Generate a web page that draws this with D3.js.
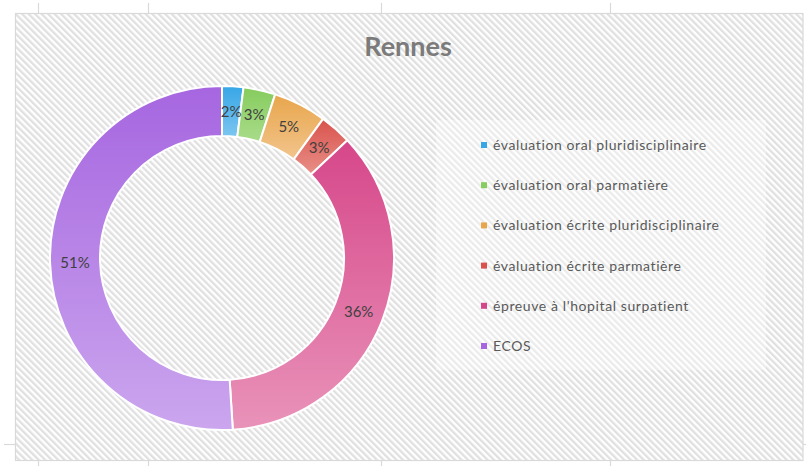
<!DOCTYPE html>
<html>
<head>
<meta charset="utf-8">
<script src="https://cdn.jsdelivr.net/npm/d3@7"></script>
<style>
  html, body { margin: 0; padding: 0; background: #ffffff; }
  svg { display: block; }
</style>
</head>
<body>
<svg id="chart" width="806" height="466"></svg>
<script>
const title = "Rennes";
const categories = [
  "évaluation oral pluridisciplinaire",
  "évaluation oral parmatière",
  "évaluation écrite pluridisciplinaire",
  "évaluation écrite parmatière",
  "épreuve à l'hopital surpatient",
  "ECOS"
];
const values = [2, 3, 5, 3, 36, 51];
const labels = ["2%", "3%", "5%", "3%", "36%", "51%"];
const colorsTop = ["#37a6e6", "#86cc5e", "#e8a64c", "#d9524c", "#d6478a", "#a666e0"];
const colorsBottom = ["#7cc6f0", "#a9dc8a", "#f2c48c", "#e89088", "#e993b9", "#cba6ee"];

const svg = d3.select("#chart");
const defs = svg.append("defs");

// hatch pattern
const pat = defs.append("pattern")
  .attr("id", "hatch")
  .attr("patternUnits", "userSpaceOnUse")
  .attr("width", 4.6).attr("height", 10)
  .attr("patternTransform", "rotate(-45)");
pat.append("rect").attr("width", 4.6).attr("height", 10).attr("fill", "#ffffff");
pat.append("rect").attr("width", 2.3).attr("height", 10).attr("fill", "#e0e0e0");

// chart area frame
const area = {x: 15.5, y: 13.5, w: 787.5, h: 447};
svg.append("rect")
  .attr("x", area.x).attr("y", area.y).attr("width", area.w).attr("height", area.h)
  .attr("fill", "url(#hatch)").attr("stroke", "#d9d9d9").attr("stroke-width", 1.2);

// outer ticks
const tickXs = [38, 148, 381, 610];
tickXs.forEach(x => {
  svg.append("line").attr("x1", x + 0.5).attr("x2", x + 0.5).attr("y1", 3).attr("y2", 13)
    .attr("stroke", "#d9d9d9").attr("stroke-width", 1.2);
  svg.append("line").attr("x1", x + 0.5).attr("x2", x + 0.5).attr("y1", 461).attr("y2", 466)
    .attr("stroke", "#d9d9d9").attr("stroke-width", 1.2);
});
svg.append("line").attr("x1", 4).attr("x2", 15).attr("y1", 444.5).attr("y2", 444.5)
  .attr("stroke", "#d9d9d9").attr("stroke-width", 1.2);
svg.append("line").attr("x1", 803).attr("x2", 806).attr("y1", 444.5).attr("y2", 444.5)
  .attr("stroke", "#d9d9d9").attr("stroke-width", 1.2);

// title
svg.append("text")
  .attr("x", 408).attr("y", 56)
  .attr("text-anchor", "middle")
  .attr("font-family", "Lato, 'Open Sans', sans-serif")
  .attr("font-weight", "bold")
  .attr("font-size", 27)
  .attr("fill", "#7b7b7b")
  .text(title);

// gradients
values.forEach((v, i) => {
  const g = defs.append("linearGradient")
    .attr("id", "grad" + i)
    .attr("x1", 0).attr("y1", 0).attr("x2", 0).attr("y2", 1);
  g.append("stop").attr("offset", "0%").attr("stop-color", colorsTop[i]);
  g.append("stop").attr("offset", "100%").attr("stop-color", colorsBottom[i]);
});

// donut
const cx = 222, cy = 258, rOuter = 172, rInner = 122;
const pie = d3.pie().sort(null).value(d => d);
const arcs = pie(values);
const arc = d3.arc().innerRadius(rInner).outerRadius(rOuter);
const labelArc = d3.arc().innerRadius(147).outerRadius(147);

const g = svg.append("g").attr("transform", `translate(${cx},${cy})`);
g.selectAll("path.slice")
  .data(arcs)
  .enter().append("path")
  .attr("class", "slice")
  .attr("d", arc)
  .attr("fill", (d, i) => `url(#grad${i})`)
  .attr("stroke", "#ffffff")
  .attr("stroke-width", 2);

g.selectAll("text.lbl")
  .data(arcs)
  .enter().append("text")
  .attr("class", "lbl")
  .attr("transform", d => `translate(${labelArc.centroid(d)})`)
  .attr("text-anchor", "middle")
  .attr("dy", "0.35em")
  .attr("font-family", "Lato, 'Open Sans', sans-serif")
  .attr("font-size", 15)
  .attr("fill", "#404040")
  .text((d, i) => labels[i]);

// legend
svg.append("rect")
  .attr("x", 436).attr("y", 120).attr("width", 330).attr("height", 250)
  .attr("fill", "#ffffff").attr("fill-opacity", 0.35);

const legY = d3.scalePoint().domain(categories).range([145, 346]);
const leg = svg.append("g");
categories.forEach((c, i) => {
  const y = legY(c);
  leg.append("rect").attr("x", 481).attr("y", y - 3).attr("width", 6).attr("height", 6)
    .attr("fill", colorsTop[i]);
  leg.append("text").attr("x", 493).attr("y", y).attr("dy", "0.35em")
    .attr("font-family", "Lato, 'Open Sans', sans-serif")
    .attr("font-size", 14)
    .attr("letter-spacing", 0.6)
    .attr("fill", "#595959")
    .text(c);
});
</script>
</body>
</html>
